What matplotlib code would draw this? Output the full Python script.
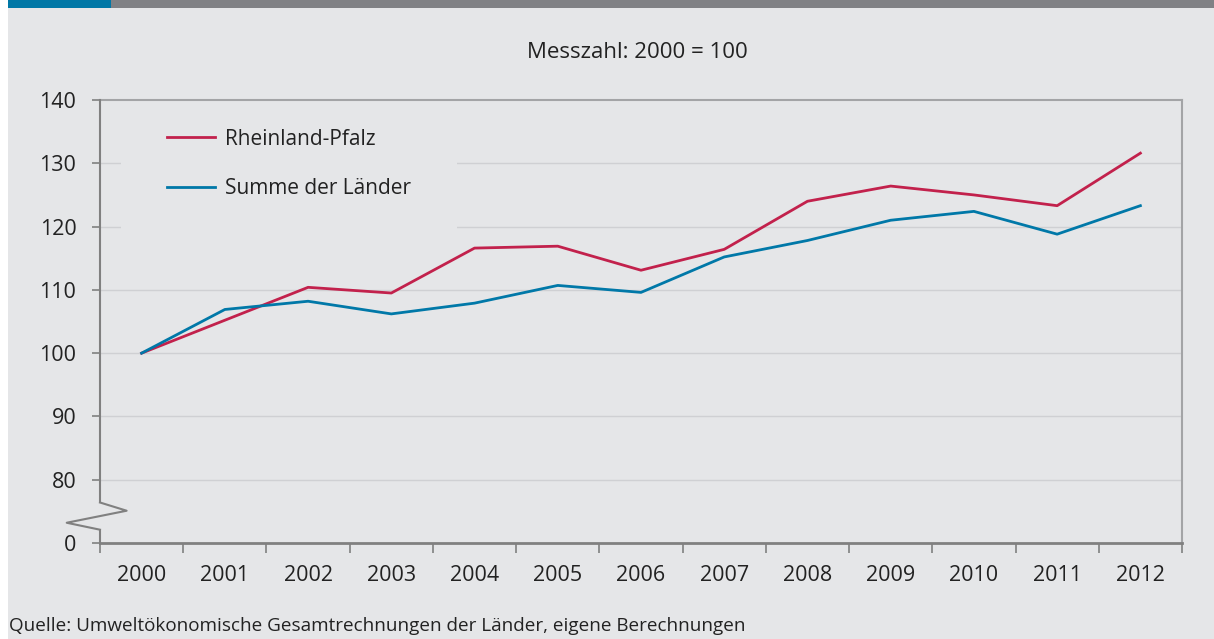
import numpy as np
import matplotlib
matplotlib.use("Agg")
import matplotlib.pyplot as plt
from matplotlib.patches import Rectangle

# Daten (Messzahl 2000 = 100)
jahre = ['2000', '2001', '2002', '2003', '2004', '2005', '2006',
         '2007', '2008', '2009', '2010', '2011', '2012']
rlp = [100, 105.2, 110.4, 109.5, 116.6, 116.9, 113.1,
       116.4, 124.0, 126.4, 125.0, 123.3, 131.6]
summe = [100, 106.9, 108.2, 106.2, 107.9, 110.7, 109.6,
         115.2, 117.8, 121.0, 122.4, 118.8, 123.3]
yticks = [70, 80, 90, 100, 110, 120, 130, 140]
ylabels = ['0', '80', '90', '100', '110', '120', '130', '140']

bg = '#e5e6e8'
rot = '#c2214c'
blau = '#0078a8'

plt.rcParams['font.family'] = ['Open Sans', 'DejaVu Sans']

fig = plt.figure(figsize=(12.14, 6.39), dpi=100)
fig.patch.set_facecolor('white')
# hintergrund + balken oben
fig.add_artist(Rectangle((8/1214, 0), 1 - 8/1214, 1, transform=fig.transFigure,
                         facecolor=bg, edgecolor='none', zorder=-10))
fig.add_artist(Rectangle((8/1214, 1 - 8/639), 103/1214, 8/639, transform=fig.transFigure,
                         facecolor='#0077a6', edgecolor='none', zorder=-9))
fig.add_artist(Rectangle((111/1214, 1 - 8/639), 1 - 111/1214, 8/639, transform=fig.transFigure,
                         facecolor='#808185', edgecolor='none', zorder=-9))

ax = fig.add_axes([100/1214, 1 - 543/639, 1082/1214, 443/639])
ax.set_facecolor(bg)
x = np.arange(len(jahre))

ax.plot(x, rlp, color=rot, lw=2, label='Rheinland-Pfalz', zorder=3)
ax.plot(x, summe, color=blau, lw=2, label='Summe der Länder', zorder=3)

ax.set_xlim(-0.5, len(jahre) - 0.5)
ax.set_ylim(70, 140)
ax.set_yticks(yticks)
ax.set_yticklabels(ylabels)
ax.set_xticks(x)
ax.set_xticklabels(jahre)
ax.set_xticks(np.arange(len(jahre) + 1) - 0.5, minor=True)

ax.tick_params(axis='x', which='major', length=0, pad=16, labelsize=15.5, colors='#222222')
ax.tick_params(axis='x', which='minor', length=7, width=1.2, color='#808080')
ax.tick_params(axis='y', which='major', length=6, width=1.2, color='#808080',
               pad=11, labelsize=15.5, labelcolor='#222222')

for t in yticks[1:-1]:
    ax.axhline(t, color='#cfd0d3', lw=1, zorder=0.5)

ax.spines['left'].set_visible(False)
ax.spines['bottom'].set_color('#808080')
ax.spines['bottom'].set_linewidth(2)
for s in ['top', 'right']:
    ax.spines[s].set_color('#a3a4a6')
    ax.spines[s].set_linewidth(1.5)

# linke achse mit bruch
kw = dict(color='#808080', lw=1.5, clip_on=False, zorder=4)
ax.plot([-0.5, -0.5], [140, 76.4], **kw)
ax.plot([-0.5, -0.18, -0.9, -0.5], [76.4, 75.1, 73.2, 72.1], **kw)
ax.plot([-0.5, -0.5], [71.9, 70], **kw)

leg = ax.legend(loc='upper left', bbox_to_anchor=(0.0095, 1.062), frameon=True,
                facecolor=bg, edgecolor='none', framealpha=1, fancybox=False,
                fontsize=15, handlelength=2.35, handletextpad=0.45,
                labelspacing=1.35, borderpad=2.2)
leg.set_zorder(2.2)
for txt in leg.get_texts():
    txt.set_color('#222222')

fig.text(637/1214, 1 - 53/639, 'Messzahl: 2000 = 100', ha='center', va='center',
         fontsize=16, color='#222222')
fig.text(9/1214, 1 - 626/639, 'Quelle: Umweltökonomische Gesamtrechnungen der Länder, eigene Berechnungen',
         ha='left', va='center', fontsize=13.6, color='#222222')

fig.savefig('out.png', dpi=100, facecolor=fig.get_facecolor())
